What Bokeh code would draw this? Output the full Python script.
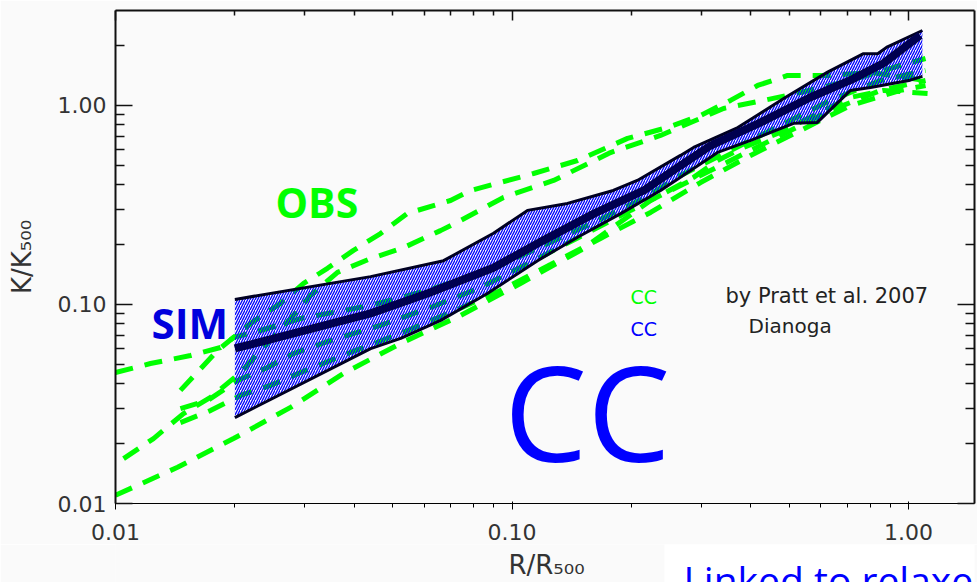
from bokeh.plotting import figure
from bokeh.layouts import column
from bokeh.models import (LogAxis, FixedTicker, PrintfTickFormatter, CustomJSTickFormatter,
                          Label, Range1d, BoxAnnotation)
from bokeh.embed import file_html
from bokeh.resources import INLINE

# ---------------- data ----------------
# Simulated (Dianoga) entropy profiles: band and median
sim_upper_r = [0.020, 0.044, 0.0672, 0.0898, 0.1094, 0.138, 0.180, 0.207, 0.266, 0.287,
               0.371, 0.490, 0.625, 0.770, 0.836, 0.885, 1.084]
sim_upper_k = [0.106, 0.138, 0.166, 0.228, 0.297, 0.322, 0.374, 0.420, 0.561, 0.615,
               0.774, 1.10, 1.47, 1.82, 1.82, 1.97, 2.38]
sim_lower_r = [0.020, 0.044, 0.0524, 0.0661, 0.0867, 0.116, 0.146, 0.188, 0.237, 0.330,
               0.400, 0.513, 0.589, 0.714, 0.802, 1.01, 1.084]
sim_lower_k = [0.0270, 0.060, 0.0675, 0.0832, 0.1135, 0.166, 0.217, 0.286, 0.374, 0.581,
               0.667, 0.813, 0.822, 1.19, 1.23, 1.34, 1.40]
sim_median_r = [0.020, 0.044, 0.0612, 0.0898, 0.120, 0.161, 0.215, 0.266, 0.317, 0.424,
                0.566, 0.714, 0.865, 1.07]
sim_median_k = [0.0601, 0.0902, 0.1135, 0.153, 0.210, 0.286, 0.374, 0.499, 0.629, 0.822,
                1.10, 1.34, 1.63, 2.25]

# Observed (Pratt et al. 2007) profiles
obs1_r = [0.0100, 0.01434, 0.01985, 0.02764, 0.03758, 0.05235, 0.07417, 0.1050, 0.1489,
          0.2236, 0.2870, 0.3298, 0.3836, 0.4673, 0.7139, 0.8650, 1.117]
obs1_k = [0.0110, 0.0152, 0.0212, 0.0304, 0.0450, 0.0637, 0.0880, 0.1275, 0.187,
          0.333, 0.435, 0.529, 0.615, 0.723, 1.097, 1.190, 1.149]
obs2_r = [0.01458, 0.01808, 0.02190, 0.02607, 0.02981, 0.03424, 0.03983, 0.04659, 0.05451,
          0.06997, 0.07860, 0.1133, 0.1463, 0.1956, 0.2467, 0.2989, 0.3557, 0.4163, 0.4954,
          0.6248, 0.8022, 1.104]
obs2_k = [0.0370, 0.0587, 0.0803, 0.1012, 0.1275, 0.152, 0.187, 0.227, 0.287,
          0.333, 0.374, 0.455, 0.529, 0.683, 0.775, 0.891, 1.060, 1.260, 1.415,
          1.415, 1.465, 1.335]
obs3_r = [0.01048, 0.01247, 0.01484, 0.01736, 0.02067, 0.02389, 0.02764, 0.03104, 0.03630,
          0.04397, 0.05327, 0.06601, 0.07417, 0.09519, 0.1273, 0.1772, 0.2369, 0.3415,
          0.4308, 0.5341, 0.7139, 0.9546, 1.104]
obs3_k = [0.0168, 0.0212, 0.0283, 0.0341, 0.0455, 0.0622, 0.0850, 0.1110, 0.145,
          0.170, 0.193, 0.235, 0.264, 0.345, 0.420, 0.580, 0.707, 0.966,
          1.060, 1.162, 1.335, 1.589, 1.722]
obs4_r = [0.0100, 0.01225, 0.01546, 0.01840, 0.01985, 0.02321, 0.02930, 0.04397, 0.06119,
          0.08980, 0.1201, 0.1606, 0.2147, 0.2661, 0.3557, 0.4755, 0.6358, 0.8500, 1.104]
obs4_k = [0.0455, 0.0505, 0.0554, 0.0608, 0.0683, 0.0740, 0.0850, 0.0989, 0.1176,
          0.152, 0.198, 0.258, 0.341, 0.445, 0.594, 0.794, 1.060, 1.335, 1.499]
obs5_r = [0.01458, 0.01706, 0.02031, 0.02417, 0.02812, 0.03485, 0.04659, 0.06230, 0.08330,
          0.1114, 0.1489, 0.1990, 0.2661, 0.3557, 0.4755, 0.6358, 0.8500, 1.104]
obs5_k = [0.0300, 0.0329, 0.0415, 0.0482, 0.0567, 0.0659, 0.0785, 0.0966, 0.1217,
          0.163, 0.2197, 0.297, 0.396, 0.529, 0.707, 0.944, 1.190, 1.335]
obs6_r = [0.01458, 0.01736, 0.02067, 0.02460, 0.02930, 0.03914, 0.05235, 0.06997, 0.09354,
          0.1251, 0.1672, 0.2236, 0.2989, 0.3997, 0.5341, 0.7139, 0.9546, 1.104]
obs6_k = [0.0255, 0.0293, 0.0349, 0.0392, 0.0455, 0.0574, 0.0715, 0.0912, 0.1176,
          0.1589, 0.2147, 0.290, 0.410, 0.561, 0.749, 1.000, 1.190, 1.260]

# axes ticks
x_major_ticks = [0.01, 0.1, 1.0]
x_minor_ticks = [0.02, 0.03, 0.04, 0.05, 0.06, 0.07, 0.08, 0.09,
                 0.2, 0.3, 0.4, 0.5, 0.6, 0.7, 0.8, 0.9]
y_major_ticks = [0.01, 0.1, 1.0]
y_minor_ticks = [0.02, 0.03, 0.04, 0.05, 0.06, 0.07, 0.08, 0.09,
                 0.2, 0.3, 0.4, 0.5, 0.6, 0.7, 0.8, 0.9, 2.0]

BG = "#fafafa"
GREEN = "#00ff00"
BLUE = "#0000ff"

p = figure(width=977, height=544, frame_width=859, frame_height=493,
           x_axis_type="log", y_axis_type="log",
           x_range=Range1d(0.01, 1.467), y_range=Range1d(0.01, 3.0),
           output_backend="svg", toolbar_location=None,
           min_border_left=115, min_border_right=3, min_border_top=10, min_border_bottom=41,
           background_fill_color=BG, border_fill_color=BG)
p.outline_line_color = None
p.grid.visible = False

# observed profiles (drawn first so the SIM hatch lies over them)
for r, k in [(obs1_r, obs1_k), (obs2_r, obs2_k), (obs3_r, obs3_k),
             (obs4_r, obs4_k), (obs5_r, obs5_k), (obs6_r, obs6_k)]:
    p.line(r, k, line_color=GREEN, line_width=5, line_dash="18 12")

# SIM band
band_r = sim_upper_r + sim_lower_r[::-1]
band_k = sim_upper_k + sim_lower_k[::-1]
p.patch(band_r, band_k, fill_alpha=0, line_color=None,
        hatch_pattern="/", hatch_color="#0000ff", hatch_scale=5, hatch_weight=1.3)
p.line(sim_upper_r, sim_upper_k, line_color="#000022", line_width=3)
p.line(sim_lower_r, sim_lower_k, line_color="#000022", line_width=3)
p.line(sim_median_r, sim_median_k, line_color="#000050", line_width=8)

# axes
TICK_FONT = "DejaVu Sans"
for ax in [p.xaxis[0], p.yaxis[0]]:
    ax.formatter = PrintfTickFormatter(format="%.2f")
    ax.major_label_text_font = TICK_FONT
    ax.major_label_text_font_size = "22px"
    ax.major_label_text_color = "#333333"
    ax.axis_label_text_font = TICK_FONT
    ax.axis_label_text_font_size = "26px"
    ax.axis_label_text_font_style = "normal"
    ax.axis_label_text_color = "#333333"

p.xaxis[0].ticker = FixedTicker(ticks=x_major_ticks, minor_ticks=x_minor_ticks)
p.yaxis[0].ticker = FixedTicker(ticks=y_major_ticks, minor_ticks=y_minor_ticks)
p.yaxis[0].axis_label = "K/K₅₀₀"
p.xaxis[0].major_label_standoff = 14
p.yaxis[0].major_label_standoff = 9
p.yaxis[0].axis_label_standoff = 18

top_ax = LogAxis(ticker=FixedTicker(ticks=x_major_ticks, minor_ticks=x_minor_ticks),
                 formatter=CustomJSTickFormatter(code="return ''"))
right_ax = LogAxis(ticker=FixedTicker(ticks=y_major_ticks, minor_ticks=y_minor_ticks),
                   formatter=CustomJSTickFormatter(code="return ''"))
p.add_layout(top_ax, "above")
p.add_layout(right_ax, "right")

for ax in [p.xaxis[0], top_ax]:
    ax.major_tick_in = 10
    ax.minor_tick_in = 5
for ax in [p.yaxis[0], right_ax]:
    ax.major_tick_in = 17
    ax.minor_tick_in = 9
for ax in [p.xaxis[0], p.yaxis[0], top_ax, right_ax]:
    ax.major_tick_out = 0
    ax.minor_tick_out = 0
    ax.axis_line_color = "#111111"
    ax.axis_line_width = 2
    ax.major_tick_line_color = "#111111"
    ax.minor_tick_line_color = "#111111"
    ax.major_tick_line_width = 1.5
    ax.minor_tick_line_width = 1.5
for ax in [top_ax, right_ax]:
    ax.major_label_standoff = 0
    ax.major_label_text_font_size = "0px"

# annotations, text vertically centred on y
def lab(fig, text, x, y, color, font, size, style="normal", align="left"):
    fig.add_layout(Label(x=x, y=y, text=text, text_color=color, text_font=font,
                         text_font_size=size, text_font_style=style, text_align=align,
                         text_baseline="middle"))

lab(p, "OBS", 0.02532, 0.3290, GREEN, "Open Sans", "41px", "bold")
lab(p, "SIM", 0.01233, 0.08149, "#0000dd", "Open Sans", "42px", "bold")
lab(p, "CC", 0.09545, 0.02926, BLUE, "Open Sans", "132px")
lab(p, "CC", 0.1990, 0.1092, GREEN, "DejaVu Sans", "19px")
lab(p, "by Pratt et al. 2007", 0.3455, 0.1101, "#222222", "DejaVu Sans", "21px")
lab(p, "CC", 0.1990, 0.07539, BLUE, "DejaVu Sans", "19px")
lab(p, "Dianoga", 0.3950, 0.07780, "#222222", "DejaVu Sans", "20px")

# strip below the plot (its frame is aligned with the plot frame, x = page pixels)
strip = figure(width=977, height=38, x_range=Range1d(115, 974), y_range=Range1d(0, 38),
               output_backend="svg", toolbar_location=None,
               x_axis_location=None, y_axis_location=None,
               min_border_left=0, min_border_right=0, min_border_top=0, min_border_bottom=0,
               background_fill_color=BG, border_fill_color=BG)
strip.outline_line_color = None
strip.grid.visible = False
strip.add_layout(BoxAnnotation(left=664, right=980, bottom=-5, top=45,
                               fill_color="white", fill_alpha=1, line_color=None))
lab(strip, "R/R₅₀₀", 546, 18, "#333333", "DejaVu Sans", "26px", align="center")
lab(strip, "Linked to relaxed", 683, 3.0, BLUE, "Open Sans", "39px")

layout = column(p, strip, spacing=0)
open("out.html", "w").write(file_html(layout, INLINE))
